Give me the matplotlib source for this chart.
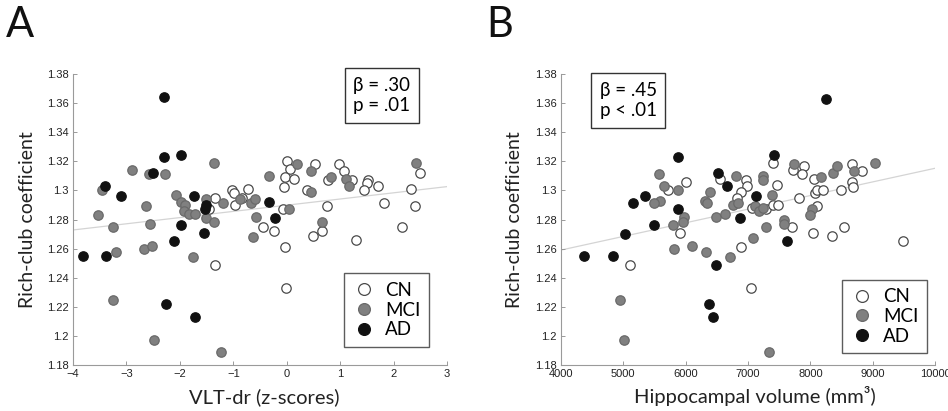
import numpy as np
import matplotlib
matplotlib.use('Agg')
import matplotlib.pyplot as plt
from matplotlib.lines import Line2D

# ---- data: panel A (VLT-dr z-scores vs rich-club coefficient)
a_cn_x = [0.01, 0.07, 0.53, 0.97, 1.08, -0.04, 0.14, -0.05, 0.78, 1.23, 0.38, 1.53, 1.51, 1.45,
          1.71, 2.33, 2.49, 2.40, 1.83, 0.76, -0.07, -0.45, -0.24, 0.49, 0.66, 1.30, 2.15, -0.04,
          -1.35, -1.03, -0.99, -0.73, -0.96, -0.84, -1.45, -1.34, -0.01]
a_cn_y = [1.320, 1.315, 1.318, 1.318, 1.313, 1.309, 1.308, 1.302, 1.307, 1.307, 1.300, 1.307, 1.305, 1.300,
          1.303, 1.301, 1.312, 1.289, 1.291, 1.289, 1.287, 1.275, 1.272, 1.269, 1.272, 1.266, 1.275, 1.261,
          1.295, 1.300, 1.298, 1.301, 1.290, 1.295, 1.287, 1.249, 1.233]
a_mci_x = [-1.37, -2.90, -2.57, -2.27, -3.46, -2.08, -1.98, -1.90, -1.93, -1.83, -1.72, -1.51, -1.52, -1.37,
           -1.19, -2.64, -3.53, -3.25, -2.56, -0.87, -0.67, -0.59, -0.57, -0.34, 0.04, 0.20, 0.46, 0.45,
           0.82, 1.11, 1.16, 0.66, 2.42, -2.68, -2.53, -3.19, -1.75, -0.63, -3.25, -2.48, -1.23]
a_mci_y = [1.319, 1.314, 1.311, 1.311, 1.300, 1.297, 1.292, 1.290, 1.2855, 1.284, 1.284, 1.294, 1.281, 1.278,
           1.291, 1.289, 1.283, 1.275, 1.277, 1.294, 1.291, 1.294, 1.282, 1.310, 1.287, 1.318, 1.313, 1.299,
           1.309, 1.308, 1.303, 1.278, 1.319, 1.260, 1.262, 1.258, 1.254, 1.268, 1.225, 1.197, 1.189]
a_ad_x = [-2.30, -2.30, -1.97, -2.50, -3.41, -3.10, -1.73, -1.51, -1.53, -0.33, -0.21, -1.98, -3.81, -3.38,
          -1.54, -2.11, -2.25, -1.72]
a_ad_y = [1.364, 1.323, 1.324, 1.312, 1.303, 1.296, 1.296, 1.290, 1.287, 1.292, 1.281, 1.276, 1.255, 1.255,
          1.271, 1.265, 1.222, 1.213]
a_fit_x = [-4, 3]
a_fit_y = [1.2728, 1.3026]

# ---- data: panel B (hippocampal volume vs rich-club coefficient)
b_cn_x = [6000, 5710, 6550, 6965, 6979, 6892, 6818, 7064, 7289, 7406, 7476, 7460, 7395, 7727, 7904, 7861,
          7813, 8064, 8100, 8080, 8112, 8203, 8497, 8674, 8674, 8679, 8825, 5107, 5914, 6892, 7053, 7712,
          8049, 8353, 8540, 9487]
b_cn_y = [1.306, 1.300, 1.308, 1.307, 1.303, 1.299, 1.295, 1.288, 1.287, 1.290, 1.290, 1.304, 1.319, 1.314,
          1.317, 1.311, 1.295, 1.308, 1.289, 1.298, 1.300, 1.300, 1.300, 1.318, 1.306, 1.302, 1.313, 1.249,
          1.271, 1.261, 1.233, 1.275, 1.271, 1.269, 1.275, 1.265]
b_mci_x = [5577, 5652, 5594, 5497, 5877, 5978, 5952, 5792, 6393, 6312, 6337, 6487, 6633, 6757, 6837, 6815,
           5815, 6100, 6330, 6711, 7241, 7240, 7117, 7170, 7246, 7390, 7294, 7088, 7735, 8166, 8366, 8430,
           8706, 9036, 8022, 8000, 7583, 7583, 4944, 5005, 7332]
b_mci_y = [1.311, 1.303, 1.293, 1.291, 1.300, 1.282, 1.278, 1.276, 1.299, 1.293, 1.291, 1.282, 1.284, 1.290,
           1.291, 1.310, 1.260, 1.262, 1.258, 1.254, 1.310, 1.307, 1.289, 1.2855, 1.288, 1.297, 1.275, 1.267,
           1.318, 1.309, 1.312, 1.317, 1.313, 1.319, 1.287, 1.283, 1.280, 1.277, 1.225, 1.197, 1.189]
b_ad_x = [8257, 5872, 7425, 6522, 6665, 5153, 5355, 5882, 7126, 6872, 5490, 4364, 4839, 5021, 6482, 6370,
          6434, 7624]
b_ad_y = [1.363, 1.323, 1.324, 1.312, 1.303, 1.291, 1.296, 1.287, 1.296, 1.281, 1.276, 1.255, 1.255, 1.270,
          1.249, 1.222, 1.213, 1.265]
b_fit_x = [4000, 10000]
b_fit_y = [1.259, 1.3152]

y_ticks = [1.18, 1.2, 1.22, 1.24, 1.26, 1.28, 1.3, 1.32, 1.34, 1.36, 1.38]
a_xticks = [-4, -3, -2, -1, 0, 1, 2, 3]
b_xticks = [4000, 5000, 6000, 7000, 8000, 9000, 10000]

LBL = 'Lato'
TICK = 'Liberation Sans'
groups = [('CN', 'white', '#4a4a4a'), ('MCI', '#808080', '#6a6a6a'), ('AD', '#111111', '#111111')]

fig = plt.figure(figsize=(9.48, 4.11), dpi=100)


def panel(rect, data, fit_x, fit_y, xlim, xticks, stats, stats_pos, leg_pos):
    ax = fig.add_axes(rect)
    ax.plot(fit_x, fit_y, color='#d4d4d4', lw=0.9, zorder=1)
    for (name, fc, ec), (xs, ys) in zip(groups, data):
        ax.scatter(xs, ys, s=46, facecolor=fc, edgecolor=ec, linewidths=0.9, zorder=3)
    ax.set_xlim(*xlim)
    ax.set_ylim(1.18, 1.38)
    ax.set_xticks(xticks)
    ax.set_yticks(y_ticks)
    ax.set_yticklabels(['%g' % round(v, 2) for v in y_ticks])
    for s in ['top', 'right']:
        ax.spines[s].set_visible(False)
    for s in ['left', 'bottom']:
        ax.spines[s].set_color('#9a9a9a')
        ax.spines[s].set_linewidth(0.8)
    ax.tick_params(direction='in', length=3, width=0.7, color='#9a9a9a',
                   labelsize=8, labelcolor='#222222', pad=3)
    for t in ax.get_xticklabels() + ax.get_yticklabels():
        t.set_fontfamily(TICK)
    ax.text(stats_pos[0], stats_pos[1], stats, transform=ax.transAxes, ha='center', va='center',
            fontsize=13.5, family=LBL, linespacing=1.25, clip_on=False,
            bbox=dict(boxstyle='square,pad=0.45', fc='white', ec='#333333', lw=1.0))
    handles = [Line2D([], [], ls='none', marker='o', markersize=8.5, markerfacecolor=fc,
                      markeredgecolor=ec, markeredgewidth=0.9) for (_, fc, ec) in groups]
    leg = ax.legend(handles, [g[0] for g in groups], loc='center', bbox_to_anchor=leg_pos,
                    frameon=True, fancybox=False, prop={'family': LBL, 'size': 13.5},
                    handletextpad=0.55, borderpad=0.45, labelspacing=0.15, handlelength=1.2,
                    borderaxespad=0)
    leg.get_frame().set_edgecolor('#333333')
    leg.get_frame().set_linewidth(1.0)
    return ax


panel([73 / 948, 46 / 411, 374 / 948, 291 / 411],
      [(a_cn_x, a_cn_y), (a_mci_x, a_mci_y), (a_ad_x, a_ad_y)],
      a_fit_x, a_fit_y, (-4, 3), a_xticks,
      '\u03b2 = .30\np = .01', (0.826, 0.926), (0.838, 0.189))

panel([561 / 948, 46 / 411, 374 / 948, 291 / 411],
      [(b_cn_x, b_cn_y), (b_mci_x, b_mci_y), (b_ad_x, b_ad_y)],
      b_fit_x, b_fit_y, (4000, 10000), b_xticks,
      '\u03b2 = .45\np < .01', (0.180, 0.909), (0.865, 0.167))

fig.text(28 / 948, 0.466, 'Rich-club coefficient', rotation=90, ha='center', va='center',
         fontsize=14, family=LBL, color='#222222')
fig.text(515 / 948, 0.466, 'Rich-club coefficient', rotation=90, ha='center', va='center',
         fontsize=14, family=LBL, color='#222222')
fig.text(264 / 948, 0.012, 'VLT-dr (z-scores)', ha='center', va='bottom',
         fontsize=14.5, family=LBL, color='#222222')
fig.text(755 / 948, 0.012, 'Hippocampal volume (mm\u00b3)', ha='center', va='bottom',
         fontsize=14.5, family=LBL, color='#222222')
fig.text(6 / 948, 1 - 6 / 411, 'A', ha='left', va='top', fontsize=30, family=LBL, color='#111111')
fig.text(486 / 948, 1 - 6 / 411, 'B', ha='left', va='top', fontsize=30, family=LBL, color='#111111')

fig.savefig('out.png', dpi=100)
